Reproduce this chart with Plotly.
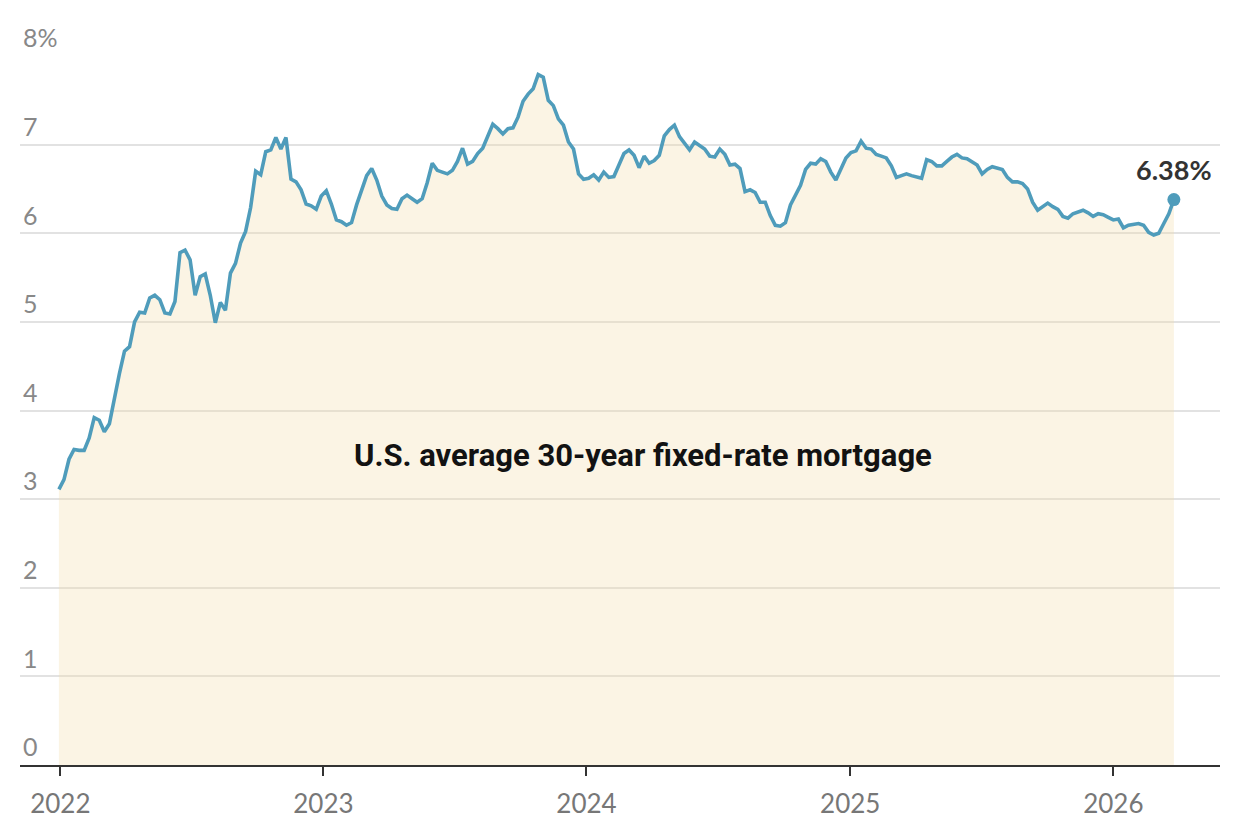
import pandas as pd
import plotly.graph_objects as go

# Weekly U.S. average 30-year fixed-rate mortgage (%), first week: 2021-12-30
start_week = "2021-12-30"
rates_2021_end = [3.11]
rates_2022 = [3.22, 3.45, 3.56, 3.55,
              3.55, 3.69, 3.92, 3.89,
              3.76, 3.85, 4.16, 4.42, 4.67,
              4.72, 5.00, 5.11, 5.10,
              5.27, 5.30, 5.25, 5.10,
              5.09, 5.23, 5.78, 5.81, 5.70,
              5.30, 5.51, 5.54, 5.30,
              4.99, 5.22, 5.13, 5.55,
              5.66, 5.89, 6.02, 6.29, 6.70,
              6.66, 6.92, 6.94, 7.08,
              6.95, 7.08, 6.61, 6.58,
              6.49, 6.33, 6.31, 6.27, 6.42]
rates_2023 = [6.48, 6.33, 6.15, 6.13,
              6.09, 6.12, 6.32, 6.50,
              6.65, 6.73, 6.60, 6.42, 6.32,
              6.28, 6.27, 6.39, 6.43,
              6.39, 6.35, 6.39, 6.57,
              6.79, 6.71, 6.69, 6.67, 6.71,
              6.81, 6.96, 6.78, 6.81,
              6.90, 6.96, 7.09, 7.23, 7.18,
              7.12, 7.18, 7.19, 7.31,
              7.49, 7.57, 7.63, 7.79,
              7.76, 7.50, 7.44, 7.29, 7.22,
              7.03, 6.95, 6.67, 6.61]
rates_2024 = [6.62, 6.66, 6.60, 6.69,
              6.63, 6.64, 6.77, 6.90, 6.94,
              6.88, 6.74, 6.87, 6.79,
              6.82, 6.88, 7.10, 7.17,
              7.22, 7.09, 7.02, 6.94, 7.03,
              6.99, 6.95, 6.87, 6.86,
              6.95, 6.89, 6.77, 6.78,
              6.73, 6.47, 6.49, 6.46, 6.35,
              6.35, 6.20, 6.09, 6.08,
              6.12, 6.32, 6.44, 6.54, 6.72,
              6.79, 6.78, 6.84, 6.81,
              6.69, 6.60, 6.72, 6.85]
rates_2025 = [6.91, 6.93, 7.04, 6.96, 6.95,
              6.89, 6.87, 6.85, 6.76,
              6.63, 6.65, 6.67, 6.65,
              6.64, 6.62, 6.83, 6.81,
              6.76, 6.76, 6.81, 6.86, 6.89,
              6.85, 6.84, 6.81, 6.77,
              6.67, 6.72, 6.75, 6.74, 6.72,
              6.63, 6.58, 6.58, 6.56,
              6.50, 6.35, 6.26, 6.30,
              6.34, 6.30, 6.27, 6.19, 6.17,
              6.22, 6.24, 6.26, 6.23,
              6.19, 6.22, 6.21, 6.18]
rates_2026 = [6.15, 6.16, 6.06, 6.09, 6.10,
              6.11, 6.09, 6.01, 5.98,
              6.00, 6.11, 6.22, 6.38]

rates = rates_2021_end + rates_2022 + rates_2023 + rates_2024 + rates_2025 + rates_2026
dates = pd.date_range(start_week, periods=len(rates), freq="7D")

y_ticks = [0, 1, 2, 3, 4, 5, 6, 7, 8]
y_tick_labels = ["0", "1", "2", "3", "4", "5", "6", "7", "8%"]
x_ticks = ["2022-01-01", "2023-01-01", "2024-01-01", "2025-01-01", "2026-01-01"]
x_tick_labels = ["2022", "2023", "2024", "2025", "2026"]
title_text = "U.S. average 30-year fixed-rate mortgage"
last_label = f"{rates[-1]:.2f}%"

line_color = "#4f9cbb"

fig = go.Figure()
fig.add_trace(go.Scatter(
    x=dates, y=rates, mode="lines",
    line=dict(color=line_color, width=3.6, shape="linear"),
    fill="tozeroy", fillcolor="rgba(243,222,172,0.32)",
    hoverinfo="skip", showlegend=False,
))
fig.add_trace(go.Scatter(
    x=[dates[-1]], y=[rates[-1]], mode="markers",
    marker=dict(color=line_color, size=13),
    hoverinfo="skip", showlegend=False,
))

fig.add_annotation(
    x=dates[-1], y=rates[-1], xref="x", yref="y",
    text=f"<b>{last_label}</b>", showarrow=False, yshift=30,
    font=dict(family="Lato, Roboto, sans-serif", size=27, color="#333333"),
)
fig.add_annotation(
    x=0.519, y=3.49, xref="paper", yref="y",
    text=f"<b>{title_text}</b>", showarrow=False,
    font=dict(family="Roboto, sans-serif", size=31, color="#121212"),
)

fig.update_layout(
    width=1240, height=840,
    margin=dict(l=12, r=28, t=48, b=83),
    paper_bgcolor="white", plot_bgcolor="white",
    font=dict(family="Lato, Open Sans, sans-serif"),
)
fig.update_xaxes(
    range=["2021-11-06", "2026-05-29"],
    tickvals=x_ticks, ticktext=x_tick_labels,
    showgrid=False, zeroline=False,
    showline=True, linecolor="#333333", linewidth=2,
    ticks="outside", ticklen=9, tickwidth=2, tickcolor="#333333",
    tickfont=dict(size=26, color="#777777", family="Lato, Open Sans, sans-serif"),
    ticklabelstandoff=6,
)
fig.update_yaxes(
    range=[0, 8], tickvals=y_ticks, ticktext=y_tick_labels,
    showgrid=True, gridcolor="#e2e2e2", gridwidth=1.5,
    zeroline=False, showline=False, ticks="",
    ticklabelposition="inside top", ticklabeloverflow="allow",
    tickfont=dict(size=25, color="#888888", family="Lato, Open Sans, sans-serif"),
)

fig.write_html("out.html")
